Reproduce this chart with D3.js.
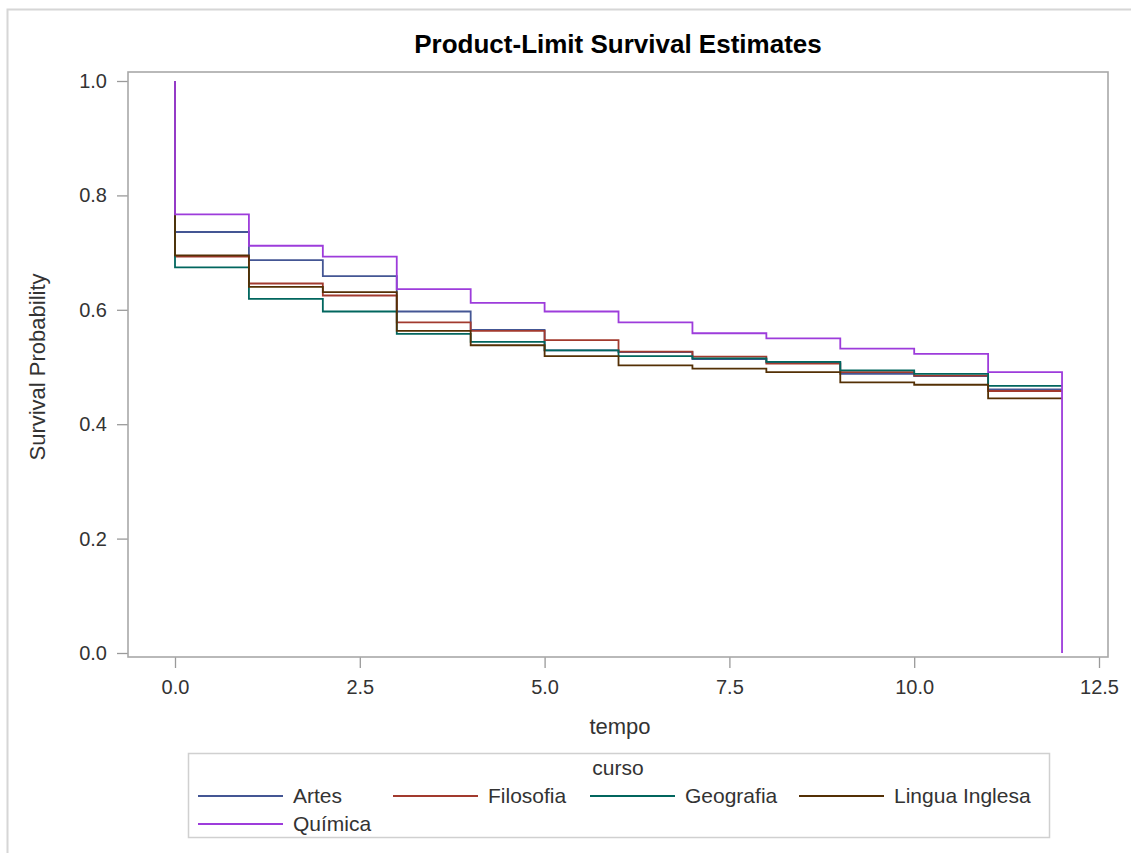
<!DOCTYPE html>
<html>
<head>
<meta charset="utf-8">
<script src="https://cdn.jsdelivr.net/npm/d3@7"></script>
<style>
  html, body { margin: 0; padding: 0; background: #fff; }
  svg { display: block; font-family: "Liberation Sans", Arial, sans-serif; }
</style>
</head>
<body>
<svg id="chart" width="1131" height="853"></svg>
<script>
// Kaplan-Meier product-limit estimates by course (curso) over time (tempo)
const tempo = [0, 1, 2, 3, 4, 5, 6, 7, 8, 9, 10, 11, 12];
const cursos = ["Artes", "Filosofia", "Geografia", "Lingua Inglesa", "Química"];

// survival after each event time in `tempo`
const artes        = [0.736, 0.687, 0.659, 0.597, 0.565, 0.529, 0.526, 0.514, 0.508, 0.488, 0.484, 0.461, 0.461];
const filosofia    = [0.693, 0.646, 0.625, 0.578, 0.563, 0.547, 0.527, 0.518, 0.506, 0.491, 0.485, 0.458, 0.458];
const geografia    = [0.674, 0.619, 0.597, 0.558, 0.544, 0.529, 0.519, 0.515, 0.509, 0.494, 0.488, 0.467, 0.467];
const linguaInglesa= [0.695, 0.640, 0.631, 0.563, 0.538, 0.519, 0.503, 0.497, 0.491, 0.473, 0.469, 0.445, 0.445];
const quimica      = [0.767, 0.712, 0.693, 0.636, 0.612, 0.597, 0.578, 0.559, 0.550, 0.532, 0.523, 0.491, 0.000];

const seriesValues = [artes, filosofia, geografia, linguaInglesa, quimica];
const colors = ["#445694", "#A23A2E", "#01665E", "#543005", "#9D3CDB"];

const xTicks = [0, 2.5, 5, 7.5, 10, 12.5];
const yTicks = [0, 0.2, 0.4, 0.6, 0.8, 1.0];

const svg = d3.select("#chart");

// outer graph border
svg.append("rect")
  .attr("x", 7.5).attr("y", 9.5)
  .attr("width", 1200).attr("height", 900)
  .attr("fill", "none").attr("stroke", "#d6d6d6").attr("stroke-width", 2);

// plot frame
const frame = { left: 128, right: 1108, top: 72, bottom: 657 };

const x = d3.scaleLinear().domain([0, 12.5]).range([175, 1099]);
const y = d3.scaleLinear().domain([0, 1]).range([653, 81]);

// title
svg.append("text")
  .attr("x", 618).attr("y", 53)
  .attr("text-anchor", "middle")
  .attr("font-size", 26).attr("font-weight", "bold")
  .attr("fill", "#000")
  .text("Product-Limit Survival Estimates");

// axes
const xAxis = svg.append("g")
  .attr("transform", `translate(0,${frame.bottom})`)
  .call(d3.axisBottom(x).tickValues(xTicks).tickFormat(d3.format(".1f")).tickSize(11).tickSizeOuter(0).tickPadding(12));
const yAxis = svg.append("g")
  .attr("transform", `translate(${frame.left},0)`)
  .call(d3.axisLeft(y).tickValues(yTicks).tickFormat(d3.format(".1f")).tickSize(11).tickSizeOuter(0).tickPadding(10));

[xAxis, yAxis].forEach(g => {
  g.select(".domain").remove();
  g.selectAll(".tick line").attr("stroke", "#9a9a9a").attr("stroke-width", 1.3);
  g.selectAll(".tick text")
    .attr("font-family", "Liberation Sans, Arial, sans-serif")
    .attr("font-size", 20).attr("fill", "#333");
});

svg.append("rect")
  .attr("x", frame.left).attr("y", frame.top)
  .attr("width", frame.right - frame.left).attr("height", frame.bottom - frame.top)
  .attr("fill", "none").attr("stroke", "#a8a8a8").attr("stroke-width", 1.6);

// axis labels
svg.append("text")
  .attr("x", 620).attr("y", 734)
  .attr("text-anchor", "middle").attr("font-size", 22).attr("fill", "#333")
  .text("tempo");
svg.append("text")
  .attr("transform", "translate(45,367) rotate(-90)")
  .attr("text-anchor", "middle").attr("font-size", 22).attr("fill", "#333")
  .text("Survival Probability");

// survival step curves
const line = d3.line()
  .x(d => x(d[0]))
  .y(d => y(d[1]))
  .curve(d3.curveStepAfter);

const plot = svg.append("g");
seriesValues.forEach((vals, i) => {
  const pts = [[0, 1]].concat(tempo.map((t, k) => [t, vals[k]]));
  plot.append("path")
    .datum(pts)
    .attr("fill", "none")
    .attr("stroke", colors[i])
    .attr("stroke-width", 1.8)
    .attr("d", line);
});

// legend
const legend = svg.append("g");
legend.append("rect")
  .attr("x", 188.5).attr("y", 753.5)
  .attr("width", 861).attr("height", 84)
  .attr("fill", "none").attr("stroke", "#d0d0d0").attr("stroke-width", 1.5);
legend.append("text")
  .attr("x", 618).attr("y", 775)
  .attr("text-anchor", "middle").attr("font-size", 21).attr("fill", "#333")
  .text("curso");

const legendCols = [198, 393, 590, 799];
const legendRows = [796, 824];
cursos.forEach((name, i) => {
  const cx = legendCols[i % 4];
  const cy = legendRows[Math.floor(i / 4)];
  legend.append("line")
    .attr("x1", cx).attr("x2", cx + 85)
    .attr("y1", cy).attr("y2", cy)
    .attr("stroke", colors[i]).attr("stroke-width", 1.8);
  legend.append("text")
    .attr("x", cx + 95).attr("y", cy + 7)
    .attr("font-size", 21).attr("fill", "#333")
    .text(name);
});
</script>
</body>
</html>
